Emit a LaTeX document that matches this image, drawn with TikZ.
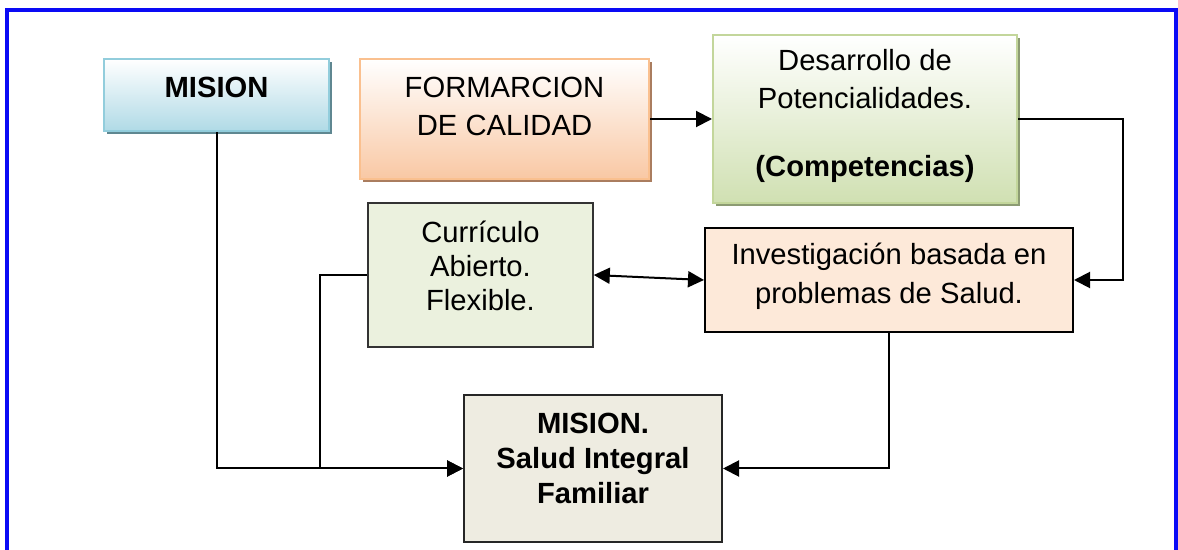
\documentclass[tikz,border=0pt]{standalone}
\usepackage{fontspec}
\setmainfont{Liberation Sans}
\usetikzlibrary{arrows.meta,positioning,shadows}

\definecolor{frameblue}{RGB}{10,10,245}
\definecolor{misline}{RGB}{146,205,220}
\definecolor{misfill}{RGB}{176,218,230}
\definecolor{misshad}{RGB}{95,135,145}
\definecolor{formline}{RGB}{250,192,143}
\definecolor{formfill}{RGB}{249,200,164}
\definecolor{formshad}{RGB}{170,125,95}
\definecolor{desline}{RGB}{195,214,155}
\definecolor{desfill}{RGB}{208,224,178}
\definecolor{desshad}{RGB}{140,155,115}
\definecolor{curfill}{RGB}{235,241,222}
\definecolor{invfill}{RGB}{253,233,217}
\definecolor{salfill}{RGB}{238,236,225}

\begin{document}
\begin{tikzpicture}[
  x=0.5pt, y=-0.5pt,
  box/.style={draw, inner sep=0pt},
  txt/.style={align=center, inner sep=0pt},
  shad/.style={general shadow={fill=#1, shadow xshift=1.5pt, shadow yshift=-1.5pt}},
  arr/.style={-{Triangle[length=8pt,width=8pt]}, line width=1pt},
  darr/.style={{Triangle[length=8pt,width=8pt]}-{Triangle[length=8pt,width=8pt]}, line width=1pt}
]
\useasboundingbox (0,0) rectangle (1178,550);
\draw[frameblue, line width=1.6pt] (7,552) -- (7,10) -- (1176,10) -- (1176,552);

% upper row
\node[box, draw=misline, line width=1pt, top color=white, bottom color=misfill,
  shad=misshad, minimum width=112.5pt, minimum height=36pt] (mision) at (216.5,95) {};
\node[txt, font=\fontsize{14.6}{19}\selectfont\bfseries] (mision-t) at (216.5,87) {MISION};

\node[box, draw=formline, line width=1pt, top color=white, bottom color=formfill,
  shad=formshad, minimum width=144.5pt, minimum height=60pt] (form) at (504.5,119) {};
\node[txt, font=\fontsize{14.6}{19}\selectfont] (form-t) at (504.5,106) {FORMARCION\\DE CALIDAD};

\node[box, draw=desline, line width=1pt, top color=white, bottom color=desfill,
  shad=desshad, minimum width=152pt, minimum height=84pt] (desa) at (865,119) {};
\node[txt, font=\fontsize{14.6}{19}\selectfont] (desa-t) at (865,116)
  {Desarrollo de\\Potencialidades.\\[15pt]\textbf{(Competencias)}};

% middle row
\node[box, draw=black!80, line width=0.8pt, fill=curfill,
  minimum width=112.5pt, minimum height=72pt] (curr) at (480.5,275) {};
\node[txt, font=\fontsize{14.6}{17}\selectfont] (curr-t) at (480.5,266) {Currículo\\Abierto.\\Flexible.};

\node[box, line width=1pt, fill=invfill,
  minimum width=184pt, minimum height=52pt] (inv) at (889,280) {};
\node[txt, font=\fontsize{14.6}{19.5}\selectfont] (inv-t) at (889,276) {Investigación basada en\\problemas de Salud.};

% bottom
\node[box, draw=black!85, line width=1pt, fill=salfill,
  minimum width=129pt, minimum height=73.5pt] (salud) at (593,468.5) {};
\node[txt, font=\fontsize{14.6}{17.5}\selectfont\bfseries] (salud-t) at (593,458)
  {MISION.\\Salud Integral\\Familiar};

\draw[arr] (form) -- (desa);
\draw[arr] (desa.east) -- ++(105,0) |- (inv.east);
\draw[darr] (curr.east) -- (inv.west);
\draw[arr] (mision.south) |- (salud.west);
\draw[arr] (curr.west) -- ++(-47,0) |- (salud.west);
\draw[arr] (inv.south) |- (salud.east);
\end{tikzpicture}
\end{document}
